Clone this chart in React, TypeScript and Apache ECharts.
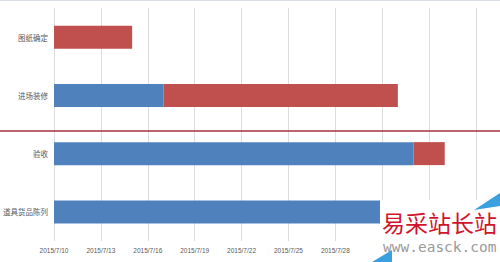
import React, { useEffect, useRef } from "react";
import * as echarts from "echarts";

// Tasks (top to bottom)
const categories = ["图纸确定", "进场装修", "验收", "道具货品陈列"];
// Start offsets in days from 2015/7/10 (blue)
const startDays = [0, 7, 23, 25];
// Durations in days (red)
const durationDays = [5, 15, 2, 1];
// Visible X axis tick labels (every 3 days from 2015/7/10; later ones are hidden by the watermark)
const tickLabels = [
  "2015/7/10",
  "2015/7/13",
  "2015/7/16",
  "2015/7/19",
  "2015/7/22",
  "2015/7/25",
  "2015/7/28",
];

export default function App() {
  const ref = useRef<HTMLDivElement>(null);
  useEffect(() => {
    if (!ref.current) return;
    const chart = echarts.init(ref.current, null, { renderer: "svg" });
    chart.setOption({
      animation: false,
      backgroundColor: "#ffffff",
      grid: { left: 54, right: 24, top: 8, bottom: 21, containLabel: false },
      xAxis: {
        type: "value",
        min: 0,
        max: 27,
        interval: 3,
        axisLine: { show: false },
        axisTick: { show: false },
        splitLine: { show: true, lineStyle: { color: "#dcdcdc", width: 1 } },
        axisLabel: {
          color: "#595959",
          fontSize: 6.5,
          fontFamily: "Liberation Sans",
          margin: 6,
          formatter: (v: number) => tickLabels[Math.round(v / 3)] ?? "",
        },
      },
      yAxis: {
        type: "category",
        inverse: true,
        data: categories,
        axisLine: { show: false },
        axisTick: { show: false },
        splitLine: { show: false },
        axisLabel: {
          color: "#595959",
          fontSize: 7.5,
          fontFamily: "Noto Sans CJK SC",
          margin: 6,
        },
      },
      series: [
        {
          type: "bar",
          stack: "gantt",
          data: startDays,
          barWidth: 23,
          itemStyle: { color: "#4f81bd" },
        },
        {
          type: "bar",
          stack: "gantt",
          data: durationDays,
          barWidth: 23,
          itemStyle: { color: "#c0504d" },
        },
      ],
      graphic: [
        {
          type: "line",
          shape: { x1: 0, y1: 131, x2: 500, y2: 131 },
          style: { stroke: "#a3303c", lineWidth: 1.5 },
          z: 100,
        },
        {
          type: "line",
          shape: { x1: 0, y1: 0.5, x2: 500, y2: 0.5 },
          style: { stroke: "#d8dde3", lineWidth: 1 },
          z: 100,
        },
        {
          type: "rect",
          shape: { x: 380, y: 200, width: 120, height: 62 },
          style: { fill: "#ffffff" },
          z: 100,
        },
        {
          type: "polygon",
          shape: { points: [[474, 210], [500, 193], [500, 206]] },
          style: { fill: "#3aa0e0" },
          z: 101,
        },
        {
          type: "polygon",
          shape: { points: [[372, 262], [392, 250], [392, 262]] },
          style: { fill: "#3aa0e0" },
          z: 101,
        },
        {
          type: "text",
          x: 382,
          y: 222,
          style: {
            text: "易采站长站",
            fill: "#d0142c",
            fontSize: 23,
            fontFamily: "Noto Sans CJK SC",
            verticalAlign: "middle",
            align: "left",
          },
          z: 102,
        },
        {
          type: "text",
          x: 383,
          y: 247,
          style: {
            text: "www.easck.com",
            fill: "#9a9a9a",
            fontSize: 14.5,
            fontFamily: "DejaVu Sans Mono",
            verticalAlign: "middle",
            align: "left",
          },
          z: 102,
        },
      ],
    });
    return () => chart.dispose();
  }, []);
  return <div ref={ref} style={{ width: 500, height: 262, position: "absolute", left: 0, top: 0 }} />;
}
